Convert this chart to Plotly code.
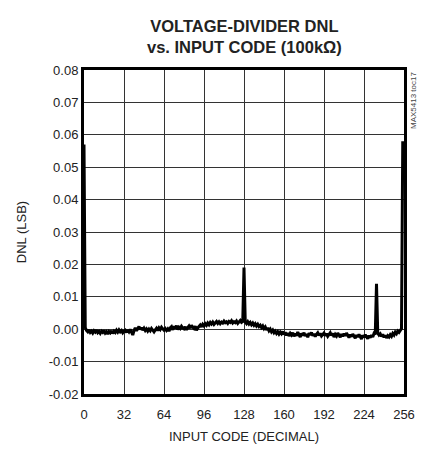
import plotly.graph_objects as go

codes = list(range(256))
dnl = [
    0.0570, 0.0005, -0.0004, -0.0008, -0.0002, -0.0010, -0.0006, -0.0012, -0.0005, -0.0009, -0.0003, -0.0011, -0.0007, -0.0013, -0.0006, -0.0010,
    -0.0004, -0.0012, -0.0008, -0.0015, -0.0007, -0.0011, -0.0005, -0.0013, -0.0006, -0.0010, -0.0003, -0.0009, -0.0002, -0.0008, -0.0004, -0.0011,
    -0.0006, -0.0003, -0.0010, -0.0002, -0.0008, -0.0001, -0.0009, -0.0018, -0.0004, 0.0004, -0.0005, 0.0002, 0.0008, -0.0001, 0.0005, -0.0003,
    0.0003, -0.0004, 0.0001, -0.0006, 0.0000, -0.0005, 0.0002, -0.0003, -0.0008, -0.0002, 0.0003, -0.0004, 0.0004, -0.0001, 0.0006, 0.0001,
    -0.0003, 0.0002, -0.0004, 0.0001, -0.0006, 0.0004, 0.0008, -0.0002, 0.0009, 0.0003, 0.0011, -0.0001, 0.0006, 0.0002, 0.0009, 0.0004,
    0.0001, 0.0007, -0.0002, 0.0005, 0.0010, 0.0003, 0.0012, 0.0006, 0.0002, 0.0009, -0.0003, 0.0004, 0.0008, 0.0013, 0.0007, 0.0015,
    0.0010, 0.0017, 0.0012, 0.0019, 0.0014, 0.0021, 0.0016, 0.0022, 0.0015, 0.0020, 0.0024, 0.0018, 0.0023, 0.0017, 0.0022, 0.0019,
    0.0025, 0.0020, 0.0023, 0.0018, 0.0024, 0.0021, 0.0026, 0.0019, 0.0023, 0.0020, 0.0025, 0.0018, 0.0022, 0.0027, 0.0021, 0.0024,
    0.0190, 0.0022, 0.0017, 0.0023, 0.0016, 0.0021, 0.0014, 0.0019, 0.0012, 0.0017, 0.0010, 0.0015, 0.0008, 0.0012, 0.0005, 0.0010,
    0.0002, 0.0007, -0.0002, 0.0004, -0.0005, 0.0000, -0.0008, -0.0003, -0.0011, -0.0006, -0.0013, -0.0008, -0.0015, -0.0009, -0.0014, -0.0007,
    -0.0016, -0.0010, -0.0019, -0.0012, -0.0021, -0.0013, -0.0018, -0.0011, -0.0022, -0.0014, -0.0020, -0.0009, -0.0017, -0.0024, -0.0013, -0.0019,
    -0.0011, -0.0021, -0.0015, -0.0025, -0.0012, -0.0018, -0.0010, -0.0020, -0.0014, -0.0023, -0.0016, -0.0011, -0.0019, -0.0013, -0.0021, -0.0015,
    -0.0012, -0.0020, -0.0014, -0.0022, -0.0017, -0.0011, -0.0019, -0.0013, -0.0024, -0.0016, -0.0021, -0.0012, -0.0018, -0.0025, -0.0015, -0.0022,
    -0.0014, -0.0020, -0.0012, -0.0019, -0.0026, -0.0017, -0.0023, -0.0015, -0.0021, -0.0028, -0.0018, -0.0024, -0.0016, -0.0022, -0.0030, -0.0019,
    -0.0025, -0.0017, -0.0023, -0.0029, -0.0020, -0.0026, -0.0018, -0.0024, -0.0013, -0.0016, 0.0140, -0.0012, -0.0018, -0.0014, -0.0022, -0.0016,
    -0.0025, -0.0019, -0.0027, -0.0020, -0.0024, -0.0017, -0.0022, -0.0013, -0.0018, -0.0009, -0.0014, -0.0006, -0.0010, -0.0003, 0.0002, 0.0580,
]
x_ticks = [0, 32, 64, 96, 128, 160, 192, 224, 256]
y_ticks = [-0.02, -0.01, 0.00, 0.01, 0.02, 0.03, 0.04, 0.05, 0.06, 0.07, 0.08]

FONT = "Liberation Sans Narrow, Arial Narrow, Liberation Sans, Arial, sans-serif"

fig = go.Figure()
fig.add_trace(go.Scatter(x=codes, y=dnl, mode="lines",
                         line=dict(color="black", width=3), showlegend=False))

fig.update_layout(
    width=419, height=447,
    margin=dict(l=76, r=20, t=62, b=60),
    paper_bgcolor="white", plot_bgcolor="white",
    font=dict(family=FONT, size=13, color="#222"),
)
fig.update_xaxes(range=[0, 256], tickvals=x_ticks, ticktext=[str(v) for v in x_ticks],
                 showgrid=True, gridcolor="#333", gridwidth=1,
                 showline=True, linecolor="black", linewidth=3, mirror=True,
                 ticks="", zeroline=False, ticklabelstandoff=6,
                 title=dict(text="INPUT CODE (DECIMAL)", standoff=12, font=dict(size=13)))
fig.update_yaxes(range=[-0.02, 0.08], tickvals=y_ticks, ticktext=[f"{v:.2f}" for v in y_ticks],
                 showgrid=True, gridcolor="#333", gridwidth=1,
                 showline=True, linecolor="black", linewidth=3, mirror=True,
                 ticks="", zeroline=False,
                 title=dict(text="DNL (LSB)", standoff=20, font=dict(size=13)))

fig.add_annotation(text="<b>VOLTAGE-DIVIDER DNL<br>vs. INPUT CODE (100kΩ)</b>",
                   xref="paper", yref="paper", x=0.5, y=1.0,
                   xanchor="center", yanchor="bottom", yshift=12,
                   showarrow=False, align="center",
                   font=dict(family=FONT, size=16.5, color="#222"))

fig.add_annotation(text="MAX5413 toc17", xref="paper", yref="paper",
                   x=1.0, y=1.0, xanchor="left", yanchor="top", xshift=3,
                   textangle=-90, showarrow=False,
                   font=dict(family=FONT, size=8, color="#444"))

fig.write_html("out.html")
